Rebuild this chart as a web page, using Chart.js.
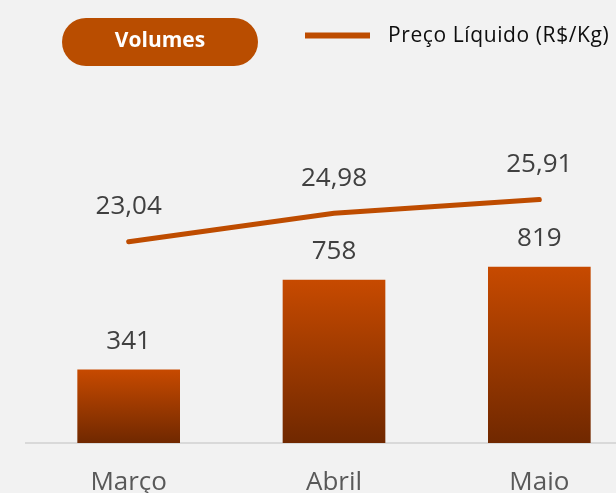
<!DOCTYPE html>
<html>
<head>
<meta charset="utf-8">
<script src="https://cdn.jsdelivr.net/npm/chart.js@4/dist/chart.umd.min.js"></script>
<style>
  html, body { margin: 0; padding: 0; background: #F2F2F2; overflow: hidden; }
  #wrap { position: absolute; left: 0; top: 0; width: 616px; height: 493px; overflow: hidden; }
</style>
</head>
<body>
<div id="wrap">
  <canvas id="volumeChart" width="642" height="493"></canvas>
</div>
<script>
var months = ["Março", "Abril", "Maio"];
var volumes = [341, 758, 819];
var netPrice = [23.04, 24.98, 25.91];
var volumeLabel = "Volumes";
var priceLabel = "Preço Líquido (R$/Kg)";

var orange = "#BE4C00";

function fmt(v, decimals){
  return v.toFixed(decimals).replace(".", ",");
}

function barGradient(context){
  var chart = context.chart;
  if(!chart.chartArea || context.parsed == null) return orange;
  var y = chart.scales.y;
  var top = y.getPixelForValue(context.parsed.y);
  var bottom = y.getPixelForValue(0);
  var g = chart.ctx.createLinearGradient(0, top, 0, bottom);
  g.addColorStop(0, "rgb(199,74,0)");
  g.addColorStop(1, "rgb(112,40,0)");
  return g;
}

// value labels above bars and line points
var valueLabels = {
  id: "valueLabels",
  afterDatasetsDraw: function(chart){
    var ctx = chart.ctx;
    ctx.save();
    ctx.font = "26px 'Open Sans'";
    ctx.fillStyle = "#404040";
    ctx.textAlign = "center";
    ctx.textBaseline = "middle";
    chart.data.datasets.forEach(function(ds, i){
      var meta = chart.getDatasetMeta(i);
      meta.data.forEach(function(el, j){
        if(ds.type === "bar"){
          ctx.fillText(fmt(ds.data[j], 0), el.x, el.y - 28);
        } else {
          ctx.fillText(fmt(ds.data[j], 2), el.x, el.y - 35);
        }
      });
    });
    ctx.restore();
  }
};

// pill + line legend on top
var topLegend = {
  id: "topLegend",
  afterDraw: function(chart){
    var ctx = chart.ctx;
    var bars = chart.data.datasets[0];
    var line = chart.data.datasets[1];
    ctx.save();
    ctx.fillStyle = "#B94D00";
    ctx.beginPath();
    ctx.roundRect(62, 18, 196, 48, 24);
    ctx.fill();
    ctx.fillStyle = "#FFFFFF";
    ctx.font = "bold 21px 'Open Sans'";
    ctx.textAlign = "center";
    ctx.textBaseline = "middle";
    ctx.fillText(bars.label, 160, 41);

    ctx.strokeStyle = line.borderColor;
    ctx.lineWidth = 6;
    ctx.beginPath();
    ctx.moveTo(305, 35.5);
    ctx.lineTo(370, 35.5);
    ctx.stroke();

    ctx.fillStyle = "#0D0D0D";
    ctx.font = "21px 'Open Sans'";
    ctx.textAlign = "left";
    ctx.letterSpacing = "0.6px";
    ctx.fillText(line.label, 388, 36);
    ctx.restore();
  }
};

var chart = new Chart(document.getElementById("volumeChart"), {
  data: {
    labels: months,
    datasets: [
      {
        type: "bar",
        label: volumeLabel,
        data: volumes,
        yAxisID: "y",
        backgroundColor: barGradient,
        borderWidth: 0,
        barPercentage: 0.5,
        categoryPercentage: 1,
        order: 2
      },
      {
        type: "line",
        label: priceLabel,
        data: netPrice,
        yAxisID: "y1",
        borderColor: orange,
        borderWidth: 5,
        borderCapStyle: "round",
        tension: 0,
        pointRadius: 0,
        fill: false,
        order: 1
      }
    ]
  },
  options: {
    responsive: false,
    animation: false,
    layout: { padding: { top: 90, left: 26, right: 0, bottom: 0 } },
    plugins: {
      legend: { display: false },
      tooltip: { enabled: false }
    },
    scales: {
      x: {
        grid: { display: false, drawTicks: false },
        border: { display: true, color: "#D9D9D9", width: 2 },
        ticks: {
          color: "#595959",
          font: { family: "'Open Sans'", size: 26 },
          padding: 24,
          maxRotation: 0
        },
        afterFit: function(scale){ scale.height = 50; }
      },
      y: { display: false, min: 0, max: 1640 },
      y1: { display: false, min: 9.33, max: 33.37 }
    }
  },
  plugins: [valueLabels, topLegend]
});
</script>
</body>
</html>
